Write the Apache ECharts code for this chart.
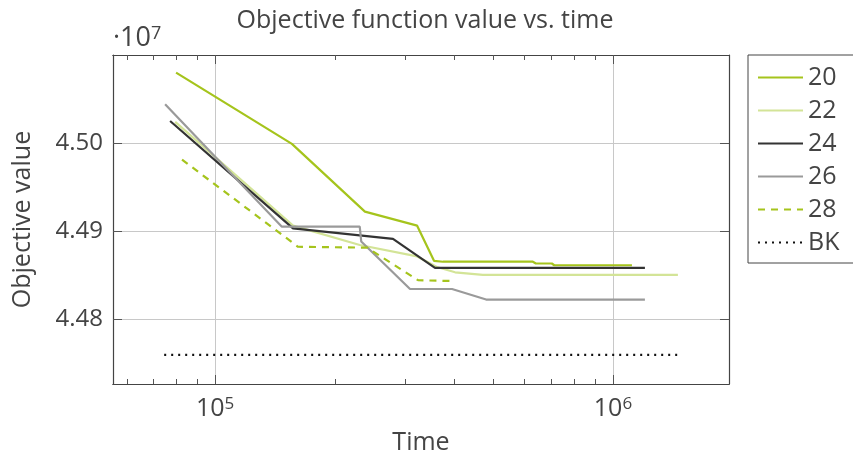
<!DOCTYPE html>
<html><head><meta charset="utf-8">
<script src="https://cdn.jsdelivr.net/npm/echarts@6/dist/echarts.min.js"></script>
<style>html,body{margin:0;padding:0;background:#fff}#c{width:853px;height:456px}</style>
</head><body><div id="c"></div>
<script>
// values in units of 1e7
const t20 = [79800, 156000, 238000, 322000, 355000, 374000, 629000, 640000, 702000, 712000, 1116000];
const v20 = [4.5080, 4.4999, 4.4922, 4.4906, 4.4866, 4.4865, 4.4865, 4.4863, 4.4863, 4.4861, 4.4861];
const t22 = [79400, 157000, 231000, 322000, 361000, 401000, 471000, 1456000];
const v22 = [4.5024, 4.4906, 4.4884, 4.4871, 4.4859, 4.4853, 4.4850, 4.4850];
const t24 = [77100, 157000, 280000, 357000, 1203000];
const v24 = [4.5025, 4.4903, 4.4891, 4.4858, 4.4858];
const t26 = [74900, 147000, 231000, 233000, 309000, 394000, 480000, 1203000];
const v26 = [4.5044, 4.4905, 4.4905, 4.4888, 4.4834, 4.4834, 4.4822, 4.4822];
const t28 = [82600, 161600, 241000, 323600, 398600];
const v28 = [4.4981, 4.4882, 4.4881, 4.4844, 4.4843];
const tBK = [74500, 1450000];
const vBK = [4.4759, 4.4759];
const seriesNames = ['20', '22', '24', '26', '28', 'BK'];
const xMajor = [1e5, 1e6];
const xMinor = [6e4, 7e4, 8e4, 9e4, 2e5, 3e5, 4e5, 5e5, 6e5, 7e5, 8e5, 9e5];
const yTicks = [4.48, 4.49, 4.50];

const zip = (t, v) => t.map((x, i) => [x, v[i]]);
const FONT = 'Open Sans';
const FS = 25;
const TXT = '#444';
const chart = echarts.init(document.getElementById('c'), null, {renderer: 'canvas'});
const xmin = 55400, xmax = 1957000, ymin = 4.4726, ymax = 4.51;
const frame = {show: true, lineStyle: {color: '#444', width: 1.2}};
const supRich = {
  b: {fontSize: FS, fontFamily: FONT, color: TXT, verticalAlign: 'bottom', lineHeight: FS},
  s: {fontSize: 17, fontFamily: FONT, color: TXT, verticalAlign: 'top', lineHeight: 17, padding: [0, 0, 11, 0]}
};
const supRich2 = {
  b: {fontSize: 27, fontFamily: FONT, color: TXT, verticalAlign: 'bottom', lineHeight: 27},
  s: {fontSize: 18, fontFamily: FONT, color: TXT, verticalAlign: 'top', lineHeight: 18, padding: [0, 0, 11, 0]}
};
const baseX = (pos, ticks, len, labels) => ({
  type: 'log', logBase: 10, min: xmin, max: xmax, position: pos, gridIndex: 0,
  axisLine: frame,
  axisTick: {show: true, inside: true, length: len, customValues: ticks, lineStyle: {color: '#555', width: 1}},
  axisLabel: labels ? {
    show: true, customValues: xMajor, margin: 12, color: TXT, fontFamily: FONT,
    formatter: v => '{b|10}{s|' + Math.round(Math.log10(v)) + '}',
    rich: supRich
  } : {show: false},
  splitLine: {show: false}, minorTick: {show: false}
});
const xAxes = [
  Object.assign(baseX('bottom', xMajor, 9, true), {
    name: 'Time', nameLocation: 'middle', nameGap: 46,
    nameTextStyle: {fontSize: FS, fontFamily: FONT, color: TXT},
    splitLine: {show: true, lineStyle: {color: '#c8c8c8', width: 1}}
  }),
  baseX('bottom', xMinor, 5, false),
  baseX('top', xMajor, 9, false),
  baseX('top', xMinor, 5, false)
];
const yAxes = [
  {type: 'value', min: ymin, max: ymax, position: 'left',
   axisLine: frame,
   axisTick: {show: true, inside: true, length: 9, customValues: yTicks, lineStyle: {color: '#555'}},
   axisLabel: {show: true, customValues: yTicks, margin: 10, fontSize: FS - 1, fontFamily: FONT, color: TXT,
               formatter: v => v.toFixed(2)},
   splitLine: {show: true, lineStyle: {color: '#c8c8c8', width: 1}},
   name: 'Objective value', nameLocation: 'middle', nameGap: 78,
   nameTextStyle: {fontSize: FS, fontFamily: FONT, color: TXT}},
  {type: 'value', min: ymin, max: ymax, position: 'right',
   axisLine: frame,
   axisTick: {show: true, inside: true, length: 9, customValues: yTicks, lineStyle: {color: '#555'}},
   axisLabel: {show: false}, splitLine: {show: false}}
];
const mk = (name, t, v, color, type, width) => ({
  name, type: 'line', data: zip(t, v), xAxisIndex: 0, yAxisIndex: 0,
  symbol: 'none', showSymbol: false, animation: false,
  lineStyle: {color, width, type, cap: 'butt'}, itemStyle: {color}
});
const series = [
  mk(seriesNames[0], t20, v20, '#a5c41c', 'solid', 2.2),
  mk(seriesNames[1], t22, v22, '#d3e497', 'solid', 2.2),
  mk(seriesNames[2], t24, v24, '#333333', 'solid', 2.2),
  mk(seriesNames[3], t26, v26, '#9a9a9a', 'solid', 2.2),
  mk(seriesNames[4], t28, v28, '#a5c41c', [7, 6], 2.2),
  mk(seriesNames[5], tBK, vBK, '#111111', [2, 5], 2.2)
];
chart.setOption({
  animation: false,
  backgroundColor: '#fff',
  textStyle: {fontFamily: FONT},
  title: [
    {text: 'Objective function value vs. time', left: 420, top: 3, textAlign: 'center',
     textStyle: {fontSize: FS, fontWeight: 'normal', fontFamily: FONT, color: TXT}},
    {text: '{b|·10}{s|7}', left: 108, top: 20,
     textStyle: {fontSize: 27, fontWeight: 'normal', fontFamily: FONT, color: TXT, rich: supRich2}}
  ],
  grid: {left: 113, top: 55, right: 124, bottom: 72, containLabel: false, outerBoundsMode: 'none'},
  xAxis: xAxes,
  yAxis: yAxes,
  legend: {
    orient: 'vertical', left: 748, top: 55, data: seriesNames,
    itemWidth: 45, itemHeight: 20, itemGap: 8,
    padding: [10, 80, 8, 9], borderColor: '#444', borderWidth: 1,
    itemStyle: {opacity: 0},
    textStyle: {fontSize: FS, fontFamily: FONT, color: TXT},
    selectedMode: false
  },
  series
});
</script></body></html>
